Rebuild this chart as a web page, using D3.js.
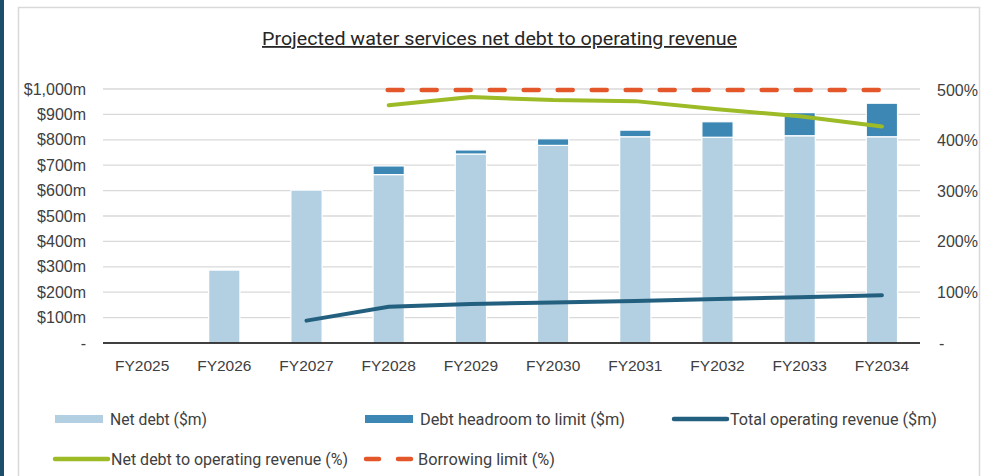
<!DOCTYPE html>
<html>
<head>
<meta charset="utf-8">
<script src="https://cdn.jsdelivr.net/npm/d3@7"></script>
<style>
  body { margin: 0; background: #fff; }
  svg { display: block; }
  .tick text { font-family: "Liberation Sans", Arial, sans-serif; fill: #404040; }
  .narrow { font-family: "Roboto", "Liberation Sans", sans-serif; }
</style>
</head>
<body>
<svg width="985" height="476"></svg>
<script>
// chart data
const years = ['FY2025', 'FY2026', 'FY2027', 'FY2028', 'FY2029', 'FY2030', 'FY2031', 'FY2032', 'FY2033', 'FY2034'];
const netDebt = [0, 287, 602, 663, 744, 778, 812, 810, 816, 812];
const headroom = [0, 0, 0, 34, 16, 26, 26, 61, 91, 132];
const revenue = [null, null, 88, 143, 154, 159, 165, 173, 180, 188];
const debtToRevenue = [null, null, null, 470, 486, 480, 478, 462, 448, 428];
const borrowingLimit = [null, null, null, 500, 500, 500, 500, 500, 500, 500];
const leftTicks = [0, 100, 200, 300, 400, 500, 600, 700, 800, 900, 1000];
const rightTicks = [0, 100, 200, 300, 400, 500];

const colors = {
    netDebt: '#b3d0e2',
    headroom: '#3d87b4',
    revenue: '#23607f',
    ratio: '#9cbb26',
    limit: '#e4572b'
};

const svg = d3.select('svg');

// outer frame + left accent strip
svg.append('rect').attr('x', 0).attr('y', 0).attr('width', 4).attr('height', 476).attr('fill', '#1d4f6b');
svg.append('rect').attr('x', 18.5).attr('y', 7.5).attr('width', 961).attr('height', 480)
    .attr('fill', 'none').attr('stroke', '#d9d9d9').attr('stroke-width', 1.5);

// title
svg.append('text')
    .attr('class', 'narrow')
    .attr('x', 262).attr('y', 45)
    .attr('font-size', 18)
    .attr('fill', '#262626')
    .attr('text-decoration', 'underline')
    .attr('textLength', 475)
    .attr('lengthAdjust', 'spacingAndGlyphs')
    .text('Projected water services net debt to operating revenue');

// scales
const x = d3.scaleBand().domain(years).range([101, 923]).paddingInner(0.62).paddingOuter(0.31);
const y = d3.scaleLinear().domain([0, 1000]).range([343, 89]);
const yPct = d3.scaleLinear().domain([0, 500]).range([343, 90]);

// gridlines
svg.append('g').selectAll('line')
    .data(leftTicks.slice(1))
    .enter().append('line')
    .attr('x1', 103).attr('x2', 920)
    .attr('y1', d => y(d)).attr('y2', d => y(d))
    .attr('stroke', '#d9d9d9').attr('stroke-width', 1.3);

// left axis
const leftAxis = svg.append('g')
    .attr('transform', 'translate(89,0)')
    .call(d3.axisLeft(y).tickValues(leftTicks).tickSize(0).tickPadding(3)
        .tickFormat(d => d === 0 ? '-' : '$' + d3.format(',')(d) + 'm'));
leftAxis.select('.domain').remove();
leftAxis.selectAll('text').style('font-size', '16px');

// right axis
const rightAxis = svg.append('g')
    .attr('transform', 'translate(935,0)')
    .call(d3.axisRight(yPct).tickValues(rightTicks).tickSize(0).tickPadding(2)
        .tickFormat(d => d === 0 ? '-' : d + '%'));
rightAxis.select('.domain').remove();
rightAxis.selectAll('text').style('font-size', '16px').attr('dx', d => d === 0 ? 2 : 0);

// stacked bars
const stackRows = years.map((yr, i) => ({ year: yr, netDebt: netDebt[i], headroom: headroom[i] }));
const stacked = d3.stack().keys(['netDebt', 'headroom'])(stackRows);

svg.append('g').selectAll('g')
    .data(stacked)
    .enter().append('g')
    .attr('fill', d => colors[d.key])
    .selectAll('rect')
    .data(d => d.filter(p => p[1] - p[0] > 0))
    .enter().append('rect')
    .attr('x', d => x(d.data.year))
    .attr('y', d => y(d[1]))
    .attr('width', x.bandwidth())
    .attr('height', d => y(d[0]) - y(d[1]))
    .attr('stroke', '#fff')
    .attr('stroke-width', 1.2);

// x axis line + labels
svg.append('line')
    .attr('x1', 103).attr('x2', 920)
    .attr('y1', y(0)).attr('y2', y(0))
    .attr('stroke', '#000').attr('stroke-width', 1.5);

const xAxis = svg.append('g')
    .attr('transform', `translate(0,${y(0) + 15})`)
    .call(d3.axisBottom(x).tickSize(0).tickPadding(2));
xAxis.select('.domain').remove();
xAxis.selectAll('text').style('font-size', '15.5px');

// lines
const cx = (d, i) => x(years[i]) + x.bandwidth() / 2;

const revLine = d3.line().defined(d => d != null).x(cx).y(d => y(d));
const pctLine = d3.line().defined(d => d != null).x(cx).y(d => yPct(d));

svg.append('path')
    .datum(revenue)
    .attr('d', revLine)
    .attr('fill', 'none').attr('stroke', colors.revenue)
    .attr('stroke-width', 4).attr('stroke-linecap', 'round');

svg.append('path')
    .datum(debtToRevenue)
    .attr('d', pctLine)
    .attr('fill', 'none').attr('stroke', colors.ratio)
    .attr('stroke-width', 4).attr('stroke-linecap', 'round');

svg.append('path')
    .datum(borrowingLimit)
    .attr('d', pctLine)
    .attr('transform', 'translate(-1,0)')
    .attr('fill', 'none').attr('stroke', colors.limit)
    .attr('stroke-width', 4.5).attr('stroke-linecap', 'round')
    .attr('stroke-dasharray', '15 19');

// legend
const legendItems = [
    { label: 'Net debt ($m)', type: 'rect', color: colors.netDebt, x: 55, y: 419, w: 97 },
    { label: 'Debt headroom to limit ($m)', type: 'rect', color: colors.headroom, x: 365, y: 419, w: 205 },
    { label: 'Total operating revenue ($m)', type: 'line', color: colors.revenue, x: 672, y: 419, w: 207 },
    { label: 'Net debt to operating revenue (%)', type: 'line', color: colors.ratio, x: 53, y: 459, w: 237 },
    { label: 'Borrowing limit (%)', type: 'dash', color: colors.limit, x: 364, y: 459, w: 137 }
];

const legend = svg.append('g').selectAll('g')
    .data(legendItems)
    .enter().append('g')
    .attr('transform', d => `translate(${d.x},${d.y})`);

legend.filter(d => d.type === 'rect').append('rect')
    .attr('x', 0).attr('y', -4).attr('width', 48).attr('height', 8)
    .attr('fill', d => d.color);

legend.filter(d => d.type === 'line').append('line')
    .attr('x1', 2).attr('x2', 55).attr('y1', 0).attr('y2', 0)
    .attr('stroke', d => d.color).attr('stroke-width', 4.5).attr('stroke-linecap', 'round');

legend.filter(d => d.type === 'dash').append('line')
    .attr('x1', 2).attr('x2', 47).attr('y1', 0).attr('y2', 0)
    .attr('stroke', d => d.color).attr('stroke-width', 4.5).attr('stroke-linecap', 'round')
    .attr('stroke-dasharray', '13 19');

legend.append('text')
    .attr('class', 'narrow')
    .attr('x', d => d.type === 'rect' ? 55 : (d.type === 'dash' ? 54 : 58))
    .attr('y', 6)
    .attr('font-size', 17)
    .attr('fill', '#404040')
    .attr('textLength', d => d.w)
    .attr('lengthAdjust', 'spacingAndGlyphs')
    .text(d => d.label);
</script>
</body>
</html>
